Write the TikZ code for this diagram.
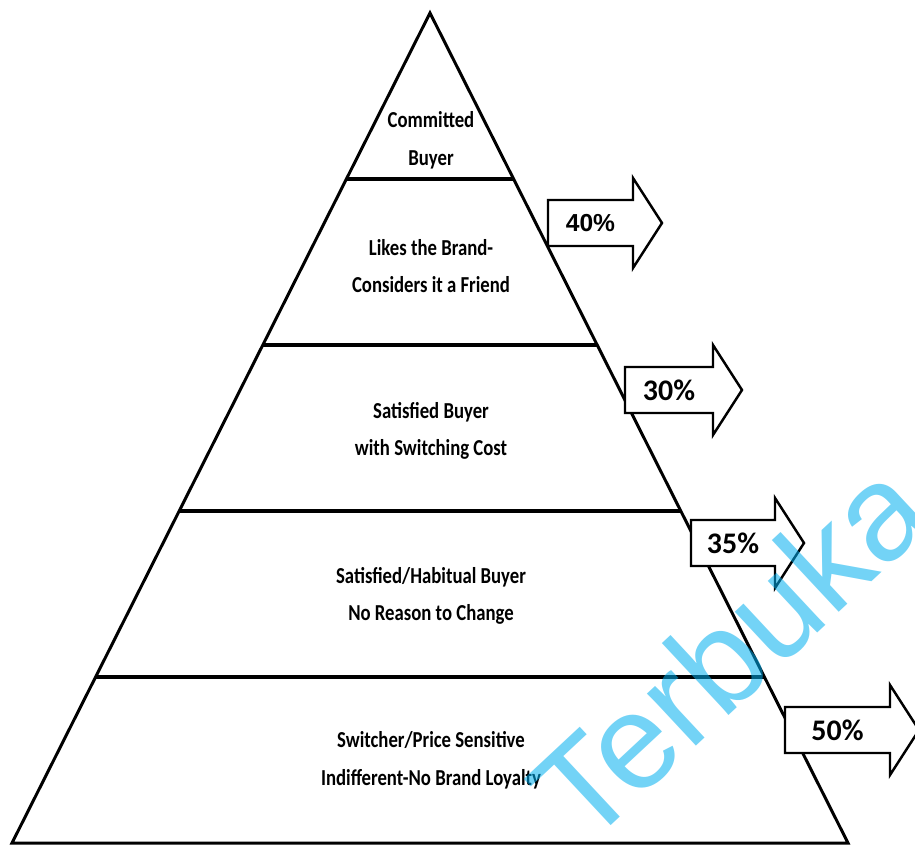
\documentclass[tikz,border=0pt]{standalone}
\usepackage{fontspec}
\usetikzlibrary{calc}
\newfontfamily\tierfont[FakeStretch=0.82]{Carlito}
\newfontfamily\pctfont{Carlito}
\newfontfamily\markfont{Liberation Sans}
\definecolor{markcyan}{RGB}{0,174,239}
\tikzset{
  tier/.style={align=center, font=\tierfont\bfseries\fontsize{13}{21.5}\selectfont},
  pct/.style={font=\pctfont\bfseries\fontsize{17}{19}\selectfont},
  arrowbox/.style={draw=black, fill=white, line width=1.4pt, line join=miter}
}
\def\pctarrow(#1,#2:#3)[#4]#5{%
  \draw[arrowbox] (#1,#2-23) -- ++(#3,0) -- ++(0,-22) -- ++(29,45) -- ++(-29,45) -- ++(0,-22) -- ++(-#3,0) -- cycle;
  \node[pct] (#4) at (#1+#3/2,#2) {#5};}

\begin{document}
\begin{tikzpicture}[x=0.02cm, y=-0.02cm]
  \useasboundingbox (0,0) rectangle (915,848);
  %%%%% START %%%%%
  \coordinate (apex) at (430,13);
  \coordinate (bl) at (12,843);
  \coordinate (br) at (848,843);
  \draw[line width=1.7pt, line join=miter] (apex) -- (bl) -- (br) -- cycle;

  \draw[line width=1.9pt] ($(apex)!0.2!(bl)$) -- ($(apex)!0.2!(br)$);
  \draw[line width=1.9pt] ($(apex)!0.4!(bl)$) -- ($(apex)!0.4!(br)$);
  \draw[line width=1.9pt] ($(apex)!0.6!(bl)$) -- ($(apex)!0.6!(br)$);
  \draw[line width=1.9pt] ($(apex)!0.8!(bl)$) -- ($(apex)!0.8!(br)$);

  \node[tier] (committed) at (431,140) {Committed\\Buyer};
  \node[tier] (likes) at (431,266) {Likes the Brand-\\Considers it a Friend};
  \node[tier] (satisfied) at (431,431) {Satisfied Buyer\\with Switching Cost};
  \node[tier] (habitual) at (431,596) {Satisfied/Habitual Buyer\\No Reason to Change};
  \node[tier] (switcher) at (431,760) {Switcher/Price Sensitive\\Indifferent-No Brand Loyalty};

  \pctarrow(548,223:85)[p40]{\markfont\fontsize{14}{16}\selectfont 40\%}
  \pctarrow(625,390:88)[p30]{30\%}
  \pctarrow(691,543:84)[p35]{35\%}
  \pctarrow(785,730:105)[p50]{50\%}

  \node[anchor=base west, rotate=43, inner sep=0pt, text=markcyan, text opacity=0.55,
        font=\markfont\fontsize{77}{80}\selectfont] (mark) at (585,850) {Terbuka};
  %%%%% END %%%%%
\end{tikzpicture}
\end{document}
